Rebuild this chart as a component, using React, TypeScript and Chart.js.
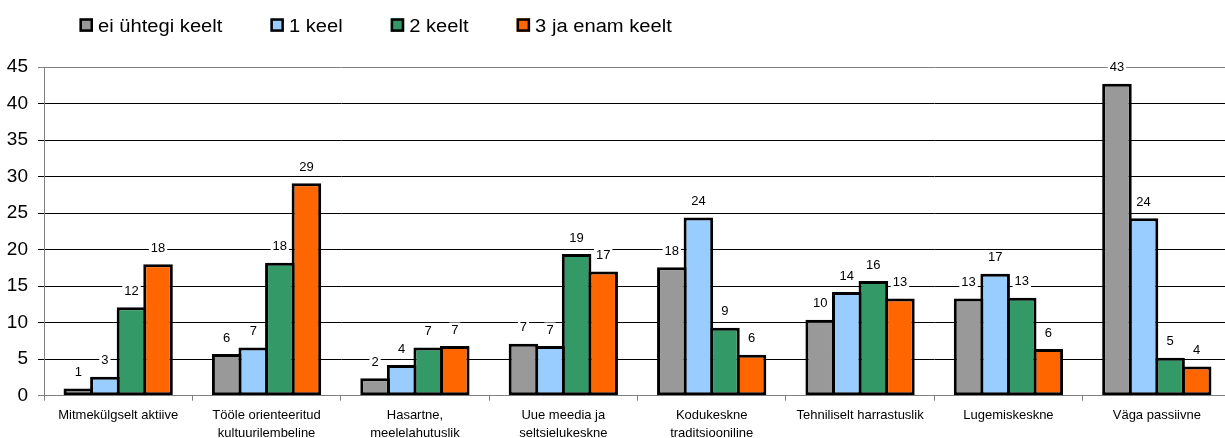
import React, { useEffect, useRef } from 'react';
import { Chart, registerables } from 'chart.js';

Chart.register(...registerables);

const FONT = '"Liberation Sans", Arial, sans-serif';

const categories: (string | string[])[] = [
  'Mitmekülgselt aktiive',
  ['Tööle orienteeritud', 'kultuurilembeline'],
  ['Hasartne,', 'meelelahutuslik'],
  ['Uue meedia ja', 'seltsielukeskne'],
  ['Kodukeskne', 'traditsiooniline'],
  'Tehniliselt harrastuslik',
  'Lugemiskeskne',
  'Väga passiivne',
];

const seriesNames = ['ei ühtegi keelt', '1 keel', '2 keelt', '3 ja enam keelt'];

const noLanguage = [1.0, 5.7, 2.4, 7.1, 17.6, 10.4, 13.3, 42.7];
const oneLanguage = [2.6, 6.6, 4.2, 6.8, 24.4, 14.2, 16.7, 24.3];
const twoLanguages = [12.1, 18.2, 6.6, 19.4, 9.3, 15.7, 13.4, 5.2];
const threePlusLanguages = [18.0, 29.1, 6.8, 17.0, 5.6, 13.3, 6.4, 4.0];

const seriesColors = ['#999999', '#99CCFF', '#339966', '#FF6600'];

const yMin = 0;
const yMax = 45;
const yStep = 5;

const valueLabelPlugin = {
  id: 'valueLabels',
  afterDatasetsDraw(chart: any) {
    const ctx = chart.ctx;
    ctx.save();
    ctx.font = `13px ${FONT}`;
    ctx.textAlign = 'center';
    ctx.textBaseline = 'middle';
    chart.data.datasets.forEach((ds: any, i: number) => {
      const meta = chart.getDatasetMeta(i);
      meta.data.forEach((bar: any, j: number) => {
        const txt = String(Math.round(ds.data[j]));
        const x = bar.x;
        const y = bar.y - 16.5;
        const w = ctx.measureText(txt).width + 4;
        ctx.fillStyle = '#ffffff';
        ctx.fillRect(x - w / 2, y - 7, w, 14);
        ctx.fillStyle = '#000000';
        ctx.fillText(txt, x, y + 0.5);
      });
    });
    ctx.restore();
  },
};

const topLegendPlugin = {
  id: 'topLegend',
  afterDraw(chart: any) {
    const ctx = chart.ctx;
    const box = 13.5;
    const boxTop = 18.3;
    const stretch = 1.12;
    let x = 79.5;
    ctx.save();
    ctx.font = `18px ${FONT}`;
    chart.data.datasets.forEach((ds: any) => {
      ctx.fillStyle = ds.backgroundColor;
      ctx.fillRect(x, boxTop, box, box);
      ctx.lineWidth = 2.5;
      ctx.strokeStyle = '#000000';
      ctx.strokeRect(x + 1.25, boxTop + 1.25, box - 2.5, box - 2.5);
      const tx = x + box + 5;
      const w = ctx.measureText(ds.label).width * stretch;
      ctx.save();
      ctx.translate(tx, 31.5);
      ctx.scale(stretch, 1);
      ctx.fillStyle = '#000000';
      ctx.textBaseline = 'alphabetic';
      ctx.textAlign = 'left';
      ctx.fillText(ds.label, 0, 0);
      ctx.restore();
      x = tx + w + 48;
    });
    ctx.restore();
  },
};

export default function App() {
  const canvasRef = useRef<HTMLCanvasElement | null>(null);

  useEffect(() => {
    if (!canvasRef.current) return;
    const values = [noLanguage, oneLanguage, twoLanguages, threePlusLanguages];
    const chart = new Chart(canvasRef.current, {
      type: 'bar',
      data: {
        labels: categories,
        datasets: values.map((data, i) => ({
          label: seriesNames[i],
          data,
          backgroundColor: seriesColors[i],
          borderColor: '#000000',
          borderWidth: 3,
          borderSkipped: false,
          inflateAmount: 0,
          barPercentage: 1.1129,
          categoryPercentage: 0.7163,
        })),
      },
      options: {
        responsive: false,
        animation: false,
        devicePixelRatio: 1,
        layout: { padding: { top: 67, left: 0, right: 0, bottom: 0 } },
        plugins: {
          legend: { display: false },
          tooltip: { enabled: false },
        },
        scales: {
          x: {
            grid: {
              drawOnChartArea: false,
              drawTicks: true,
              tickLength: 5,
              color: '#808080',
              offset: true,
            },
            border: { color: '#808080', width: 1 },
            ticks: {
              font: { family: FONT, size: 13, lineHeight: 1.38 },
              color: '#000000',
              padding: 6,
              maxRotation: 0,
              autoSkip: false,
            },
            afterFit: (s: any) => {
              s.height = 42.3;
            },
          },
          y: {
            min: yMin,
            max: yMax,
            ticks: {
              stepSize: yStep,
              font: { family: FONT, size: 19 },
              color: '#000000',
              padding: 10,
            },
            grid: {
              color: (c: any) =>
                c.tick && (c.tick.value === yMax || c.tick.value === yMin) ? '#808080' : '#000000',
              tickLength: 6,
              drawTicks: true,
            },
            border: { color: '#808080', width: 1 },
            afterFit: (s: any) => {
              s.width = 44;
            },
          },
        },
      },
      plugins: [valueLabelPlugin, topLegendPlugin],
    });
    return () => chart.destroy();
  }, []);

  return (
    <div
      style={{
        position: 'fixed',
        left: 0,
        top: 0,
        width: 1225,
        height: 438,
        overflow: 'hidden',
        background: '#ffffff',
      }}
    >
      <canvas ref={canvasRef} width={1231} height={438} style={{ display: 'block' }} />
    </div>
  );
}
